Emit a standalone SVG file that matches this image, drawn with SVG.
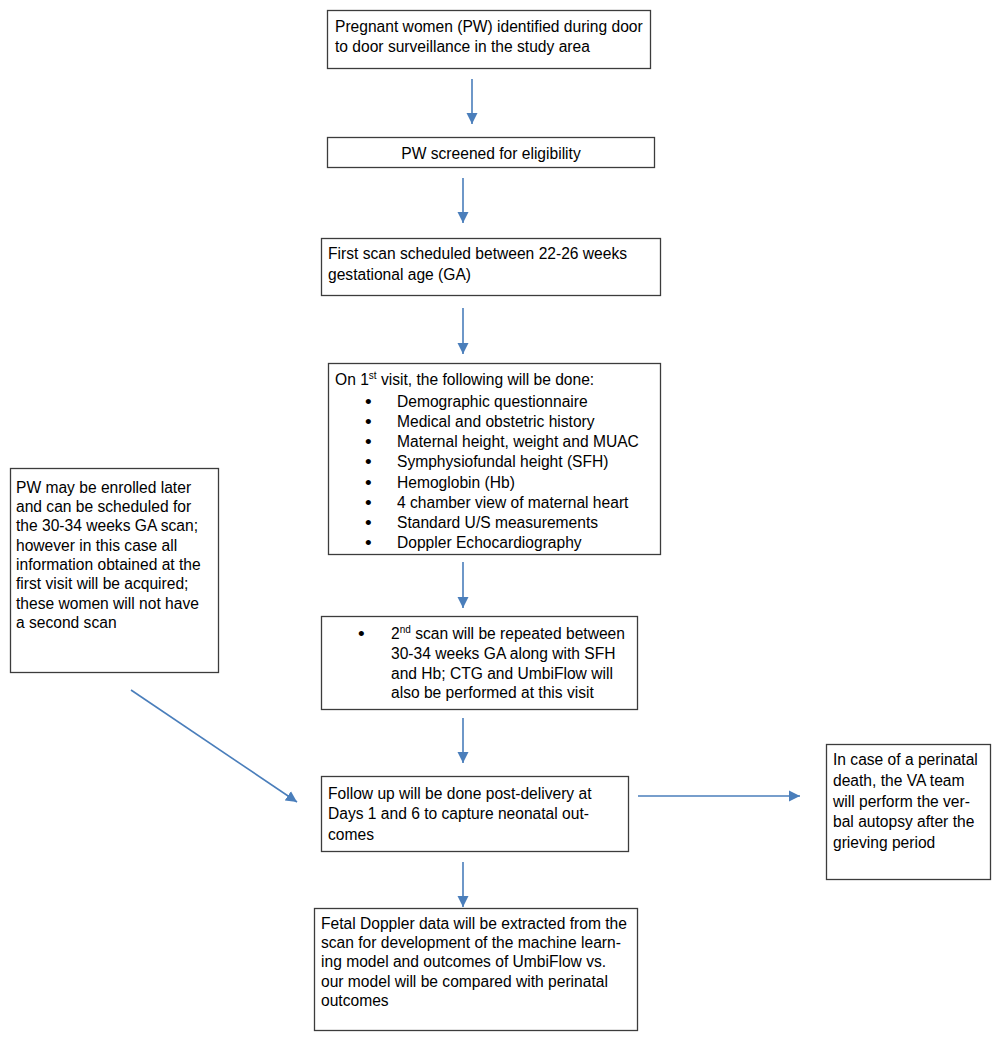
<svg xmlns="http://www.w3.org/2000/svg" width="1000" height="1039" viewBox="0 0 1000 1039">
<defs>
<style>
.box{fill:#fff;stroke:#3c3c3c;stroke-width:1.3}
text{font-family:"Liberation Sans",Arial,sans-serif;font-size:15.6px;fill:#000}
.sup{font-size:10px}
.b{font-size:19px}
.con{stroke:#4a7ebb;stroke-width:1.6;fill:none}
</style>
<marker id="ah" markerUnits="userSpaceOnUse" markerWidth="12" markerHeight="12" viewBox="0 0 12 12" refX="11" refY="6" orient="auto">
<path d="M0,0.5 L11,6 L0,11.5 Z" fill="#4a7ebb"/>
</marker>
</defs>
<rect width="1000" height="1039" fill="#fff"/>
<g id="connectors">
<line class="con" x1="472" y1="79" x2="472" y2="124" marker-end="url(#ah)"/>
<line class="con" x1="463" y1="178" x2="463" y2="223" marker-end="url(#ah)"/>
<line class="con" x1="463" y1="308" x2="463" y2="354" marker-end="url(#ah)"/>
<line class="con" x1="463" y1="562" x2="463" y2="608" marker-end="url(#ah)"/>
<line class="con" x1="463" y1="718" x2="463" y2="763" marker-end="url(#ah)"/>
<line class="con" x1="463" y1="862" x2="463" y2="907" marker-end="url(#ah)"/>
<line class="con" x1="638" y1="796" x2="800" y2="796" marker-end="url(#ah)"/>
<line class="con" x1="131" y1="690" x2="297" y2="802" marker-end="url(#ah)"/>
</g>
<g id="n1">
<rect class="box" x="327.5" y="10.5" width="323" height="58"/>
<text x="335" y="32">Pregnant women (PW) identified during door</text>
<text x="335" y="52">to door surveillance in the study area</text>
</g>
<g id="n2">
<rect class="box" x="327.5" y="137.5" width="327" height="30"/>
<text x="491" y="159" text-anchor="middle">PW screened for eligibility</text>
</g>
<g id="n3">
<rect class="box" x="321.5" y="238.5" width="339" height="57"/>
<text x="328" y="259">First scan scheduled between 22-26 weeks</text>
<text x="328" y="280">gestational age (GA)</text>
</g>
<g id="n4">
<rect class="box" x="328.5" y="363.5" width="332" height="191"/>
<text x="335" y="385">On 1<tspan class="sup" dy="-6">st</tspan><tspan dy="6"> visit, the following will be done:</tspan></text>
<g>
<text class="b" x="365" y="408">•</text><text x="397" y="407">Demographic questionnaire</text>
<text class="b" x="365" y="428">•</text><text x="397" y="427">Medical and obstetric history</text>
<text class="b" x="365" y="448">•</text><text x="397" y="447">Maternal height, weight and MUAC</text>
<text class="b" x="365" y="468">•</text><text x="397" y="467">Symphysiofundal height (SFH)</text>
<text class="b" x="365" y="489">•</text><text x="397" y="488">Hemoglobin (Hb)</text>
<text class="b" x="365" y="509">•</text><text x="397" y="508">4 chamber view of maternal heart</text>
<text class="b" x="365" y="529">•</text><text x="397" y="528">Standard U/S measurements</text>
<text class="b" x="365" y="549">•</text><text x="397" y="548">Doppler Echocardiography</text>
</g>
</g>
<g id="n5">
<rect class="box" x="321.5" y="616.5" width="316" height="93"/>
<text class="b" x="358" y="640">•</text>
<text x="391" y="639">2<tspan class="sup" dy="-6">nd</tspan><tspan dy="6"> scan will be repeated between</tspan></text>
<text x="391" y="659">30-34 weeks GA along with SFH</text>
<text x="391" y="679">and Hb; CTG and UmbiFlow will</text>
<text x="391" y="698">also be performed at this visit</text>
</g>
<g id="n6">
<rect class="box" x="321.5" y="776.5" width="307" height="75"/>
<text x="328" y="799">Follow up will be done post-delivery at</text>
<text x="328" y="819">Days 1 and 6 to capture neonatal out-</text>
<text x="328" y="840">comes</text>
</g>
<g id="n7">
<rect class="box" x="826.5" y="744.5" width="164" height="135"/>
<text x="833" y="765">In case of a perinatal</text>
<text x="833" y="786">death, the VA team</text>
<text x="833" y="807">will perform the ver-</text>
<text x="833" y="827">bal autopsy after the</text>
<text x="833" y="848">grieving period</text>
</g>
<g id="n8">
<rect class="box" x="314.5" y="908.5" width="323" height="122"/>
<text x="321" y="929">Fetal Doppler data will be extracted from the</text>
<text x="321" y="948">scan for development of the machine learn-</text>
<text x="321" y="967">ing model and outcomes of UmbiFlow vs.</text>
<text x="321" y="987">our model will be compared with perinatal</text>
<text x="321" y="1006">outcomes</text>
</g>
<g id="n9">
<rect class="box" x="10.5" y="468.5" width="208" height="204"/>
<text x="16" y="493">PW may be enrolled later</text>
<text x="16" y="512">and can be scheduled for</text>
<text x="16" y="531">the 30-34 weeks GA scan;</text>
<text x="16" y="551">however in this case all</text>
<text x="16" y="570">information obtained at the</text>
<text x="16" y="589">first visit will be acquired;</text>
<text x="16" y="609">these women will not have</text>
<text x="16" y="628">a second scan</text>
</g>
</svg>
